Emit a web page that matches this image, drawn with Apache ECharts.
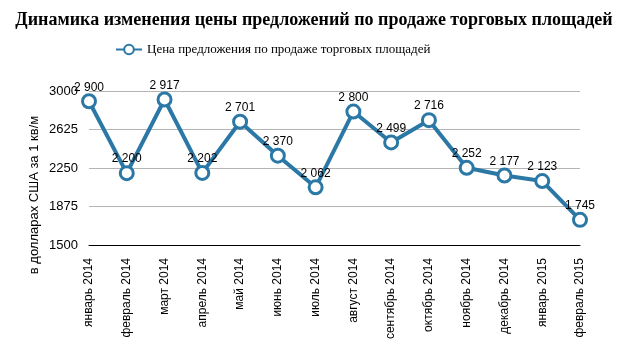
<!DOCTYPE html>
<html><head><meta charset="utf-8">
<script src="https://cdn.jsdelivr.net/npm/echarts@6/dist/echarts.min.js"></script>
<style>html,body{margin:0;padding:0;background:#fff}#c{width:628px;height:357px}</style>
</head><body><div id="c"></div>
<script>
const categories = ['январь 2014','февраль 2014','март 2014','апрель 2014','май 2014','июнь 2014','июль 2014','август 2014','сентябрь 2014','октябрь 2014','ноябрь 2014','декабрь 2014','январь 2015','февраль 2015'];
const values = [2900, 2200, 2917, 2202, 2701, 2370, 2062, 2800, 2499, 2716, 2252, 2177, 2123, 1745];
const yTicks = [1500, 1875, 2250, 2625, 3000];
const seriesName = 'Цена предложения по продаже торговых площадей';
const titleText = 'Динамика изменения цены предложений по продаже торговых площадей';
const yName = 'в долларах США за 1 кв/м';

const chart = echarts.init(document.getElementById('c'), null, {renderer:'canvas'});
chart.setOption({
  animation: false,
  title: {
    text: titleText, left: 'center', top: 6,
    textStyle: {fontFamily: 'Liberation Serif', fontWeight: 'bold', fontSize: 18, color: '#000'}
  },
  legend: {
    data: [seriesName], left: 110, top: 38,
    itemWidth: 26, itemHeight: 12, itemGap: 6,
    textStyle: {fontFamily: 'Liberation Serif', fontSize: 13, color: '#000'}
  },
  grid: {left: 89, right: 48, top: 91, bottom: 112},
  xAxis: {
    type: 'category', data: categories, boundaryGap: false,
    axisLine: {lineStyle: {color: '#000', width: 1}},
    axisTick: {show: false},
    axisLabel: {rotate: 90, fontFamily: 'Liberation Sans', fontSize: 12, color: '#000', margin: 13, interval: 0}
  },
  yAxis: {
    type: 'value', min: yTicks[0], max: yTicks[yTicks.length-1], interval: 375,
    name: yName, nameLocation: 'middle', nameGap: 48, nameRotate: 90, nameMoveOverlap: false,
    nameTextStyle: {fontFamily: 'Liberation Sans', fontSize: 13, color: '#000', padding: [0, 54, 0, 0]},
    axisLine: {show: false}, axisTick: {show: false},
    axisLabel: {fontFamily: 'Liberation Sans', fontSize: 13, color: '#000', margin: 11, formatter: v => String(v)},
    splitLine: {lineStyle: {color: '#b4b4b4', width: 1}}
  },
  series: [{
    name: seriesName, type: 'line', data: values,
    lineStyle: {color: '#2b78a6', width: 4},
    itemStyle: {color: '#fff', borderColor: '#2b78a6', borderWidth: 3},
    symbol: 'circle', symbolSize: 13,
    label: {
      show: true, position: 'top', distance: 0,
      fontFamily: 'Liberation Sans', fontSize: 12, color: '#000',
      formatter: p => String(p.value).replace(/\B(?=(\d{3})+(?!\d))/g, ' ')
    }
  }]
});
</script></body></html>
